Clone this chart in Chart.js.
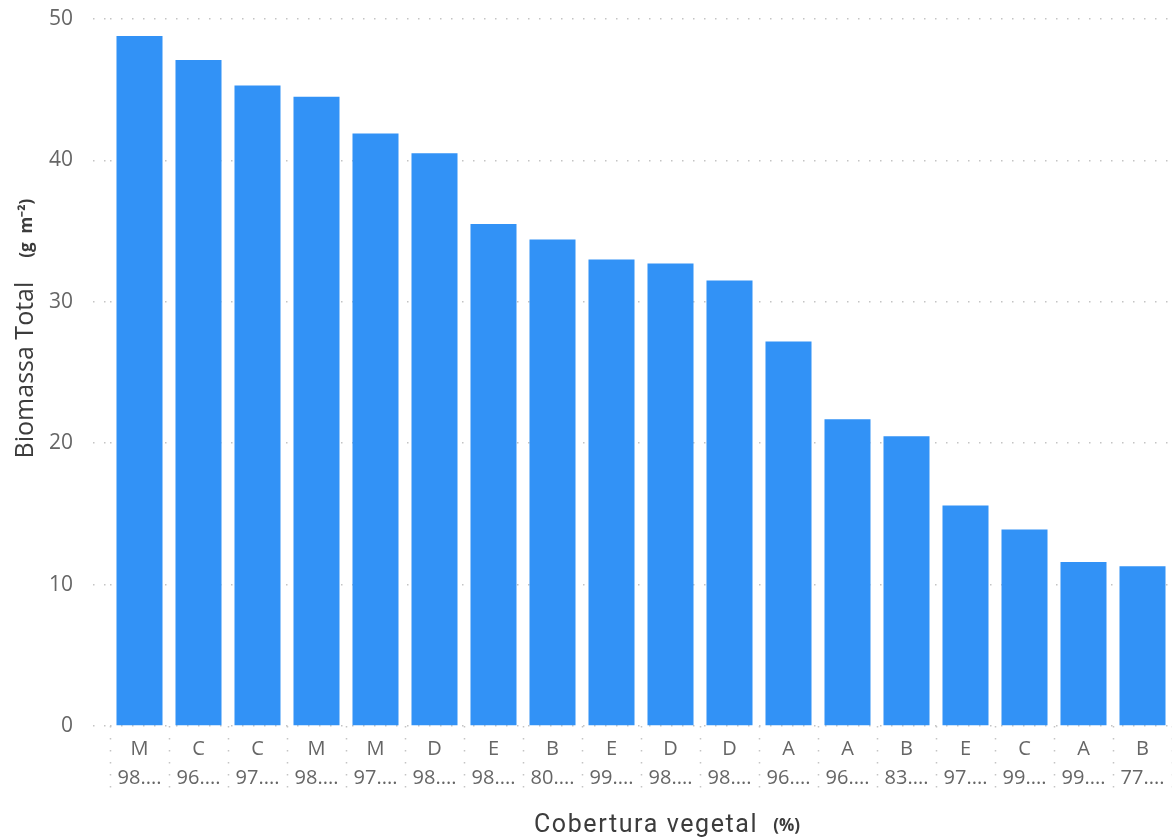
<!DOCTYPE html>
<html>
<head>
<meta charset="utf-8">
<script src="https://cdn.jsdelivr.net/npm/chart.js@4"></script>
<style>
  html, body { margin: 0; padding: 0; background: #fff; }
  #wrap { width: 1172px; height: 839px; }
</style>
</head>
<body>
<div id="wrap"><canvas id="barChart"></canvas></div>
<script>
// data
var categories = ["M", "C", "C", "M", "M", "D", "E", "B", "E", "D", "D", "A", "A", "B", "E", "C", "A", "B"];
var coverage = ["98....", "96....", "97....", "98....", "97....", "98....", "98....", "80....", "99....",
  "98....", "98....", "96....", "96....", "83....", "97....", "99....", "99....", "77...."];
var biomass = [48.8, 47.1, 45.3, 44.5, 41.9, 40.5, 35.5, 34.4, 33.0, 32.7, 31.5, 27.2, 21.7, 20.5, 15.6, 13.9, 11.6, 11.3];
var yMin = 0, yMax = 50, yStep = 10;

var xTitle = "Cobertura vegetal", xUnit = "(%)";
var yTitle = "Biomassa Total", yUnit = "(g  m\u207B\u00B2)";

var labels = categories.map(function(c, i) {
  return [c, coverage[i]];
});

// axis titles with a smaller bold unit, like the original
var axisTitles = {
  id: "axisTitles",
  afterDraw: function(chart) {
    var ctx = chart.ctx, area = chart.chartArea;
    ctx.save();
    ctx.fillStyle = "#3c3c3c";
    ctx.textBaseline = "alphabetic";

    // x title
    var mainFont = "25px Roboto", unitFont = "bold 17px 'Open Sans'";
    ctx.letterSpacing = "1.6px";
    ctx.font = mainFont;
    var w1 = ctx.measureText(xTitle).width;
    ctx.letterSpacing = "0px";
    ctx.font = unitFont;
    var w2 = ctx.measureText(xUnit).width;
    var gap = 15;
    var cx = (area.left + area.right) / 2 + 26;
    var x0 = cx - (w1 + gap + w2) / 2;
    ctx.letterSpacing = "1.6px";
    ctx.font = mainFont;
    ctx.fillText(xTitle, x0, 832);
    ctx.letterSpacing = "0px";
    ctx.font = unitFont;
    ctx.fillText(xUnit, x0 + w1 + gap, 831);

    // y title
    var yMain = "25px 'Open Sans'", yUnitFont = "bold 17px 'Open Sans'";
    ctx.font = yMain;
    var h1 = ctx.measureText(yTitle).width;
    ctx.font = yUnitFont;
    var h2 = ctx.measureText(yUnit).width;
    var cy = (area.top + area.bottom) / 2 - 44;
    ctx.translate(33, cy);
    ctx.rotate(-Math.PI / 2);
    var s0 = -(h1 + 24 + h2) / 2;
    ctx.font = yMain;
    ctx.fillText(yTitle, s0, 0);
    ctx.font = yUnitFont;
    ctx.fillText(yUnit, s0 + h1 + 24, -1);
    ctx.restore();
  }
};

var ctxB = document.getElementById("barChart").getContext("2d");
var myBarChart = new Chart(ctxB, {
  type: "bar",
  data: {
    labels: labels,
    datasets: [
      {
        label: "Biomassa Total",
        data: biomass,
        backgroundColor: "#3292F6",
        borderWidth: 0,
        barPercentage: 0.78,
        categoryPercentage: 1
      }
    ]
  },
  options: {
    responsive: true,
    maintainAspectRatio: false,
    animation: false,
    layout: { padding: { top: 19, right: 0, left: 0, bottom: 0 } },
    plugins: {
      legend: { display: false },
      tooltip: { enabled: false }
    },
    scales: {
      x: {
        border: { display: false },
        grid: {
          display: true,
          offset: true,
          drawOnChartArea: false,
          drawTicks: true,
          tickLength: 72,
          tickColor: "#c4c4c4",
          tickWidth: 1.5,
          tickBorderDash: [1.5, 10.5]
        },
        ticks: {
          autoSkip: false,
          maxRotation: 0,
          minRotation: 0,
          padding: -63,
          color: "#666",
          font: { family: "'Open Sans'", size: 20, lineHeight: 1.45 }
        },
        afterFit: function(scale) {
          scale.height = 113;
          scale.paddingLeft = 0;
          scale.paddingRight = 0;
        }
      },
      y: {
        min: yMin,
        max: yMax,
        border: { display: false, dash: [1.5, 9.5] },
        grid: {
          color: "#c4c4c4",
          lineWidth: 1.5,
          drawTicks: true,
          tickLength: 17,
          tickColor: "#c4c4c4",
          tickWidth: 1.5,
          tickBorderDash: [1.5, 9.5]
        },
        ticks: {
          stepSize: yStep,
          padding: 20,
          color: "#666",
          font: { family: "'Open Sans'", size: 21 }
        },
        afterFit: function(scale) {
          scale.width = 110;
          scale.paddingTop = 0;
          scale.paddingBottom = 0;
        }
      }
    }
  },
  plugins: [axisTitles]
});
</script>
</body>
</html>
